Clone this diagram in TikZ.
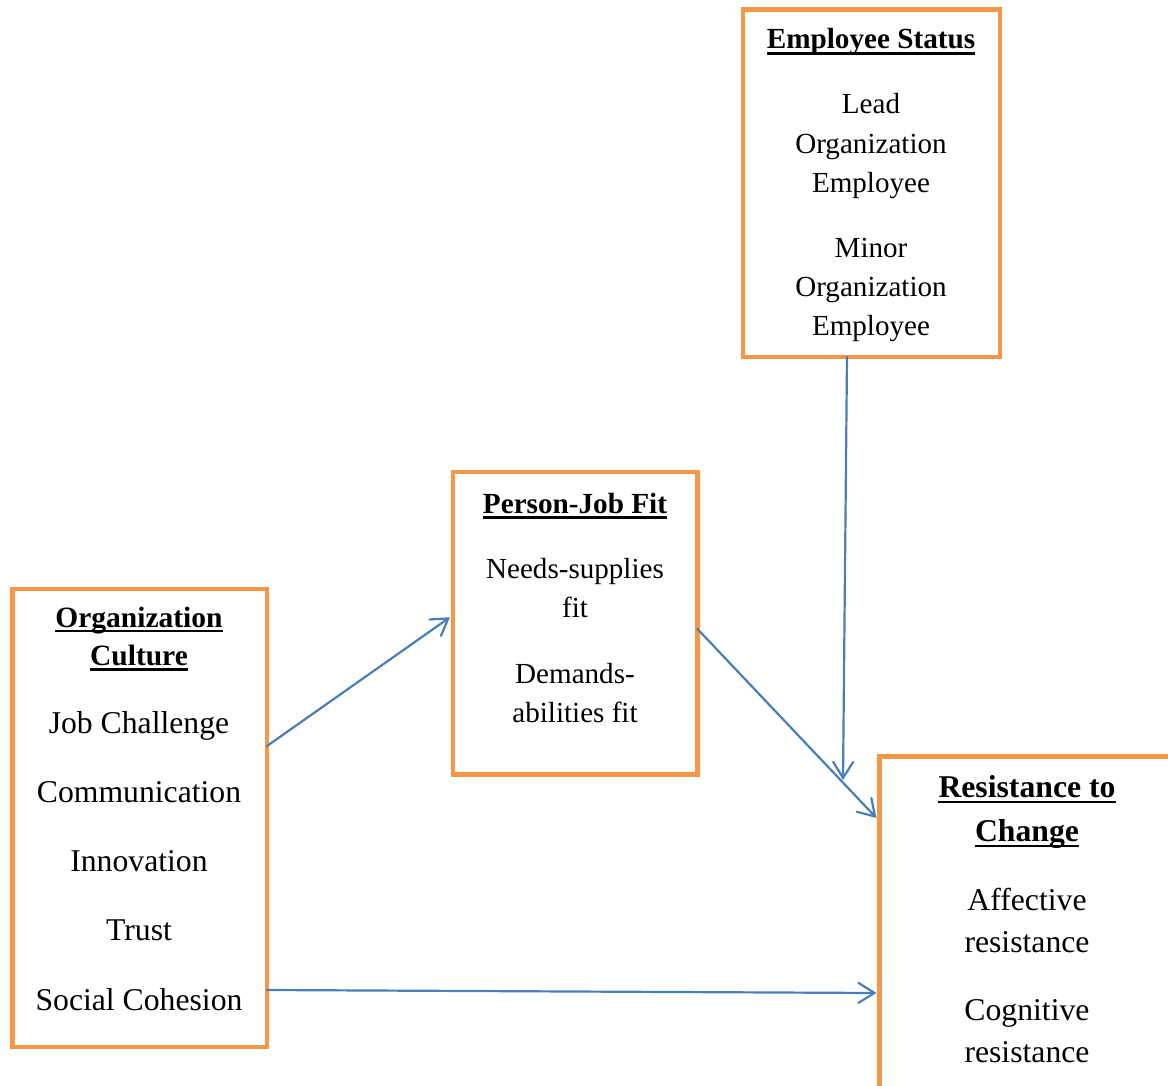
\documentclass[tikz,border=0pt]{standalone}
\usepackage{fontspec}
\setmainfont{Liberation Serif}
\usetikzlibrary{arrows.meta}
\definecolor{boxorange}{HTML}{F79646}
\definecolor{linkblue}{HTML}{4A7EBB}
\begin{document}
\begin{tikzpicture}[x=1pt,y=-1pt,
  boxA/.style={draw=boxorange, line width=4.5pt, inner sep=0pt, outer sep=0pt, fill=white, rectangle},
  txtS/.style={inner sep=0pt, anchor=base, font=\fontsize{29.1pt}{35pt}\selectfont},
  txtB/.style={inner sep=0pt, anchor=base, font=\fontsize{31.7pt}{38pt}\selectfont},
  headS/.style={txtS, font=\fontsize{29.2pt}{35pt}\selectfont\bfseries},
  headM/.style={txtS, font=\fontsize{29.5pt}{35pt}\selectfont\bfseries},
  headB/.style={txtB, font=\fontsize{31.7pt}{38pt}\selectfont\bfseries},
  uline/.style={line width=2.6pt, black},
  link/.style={draw=linkblue, line width=2.2pt, line cap=round, -{Straight Barb[length=16pt,width=20pt,line cap=round]}}
]
\useasboundingbox (0,0) rectangle (1168,1086);
\clip (0,0) rectangle (1168,1086);

% boxes
\node[boxA, minimum width=257pt, minimum height=347.5pt] (es) at (871.5,183.25) {};
\node[boxA, minimum width=244.5pt, minimum height=302.5pt] (pjf) at (575.25,623.25) {};
\node[boxA, minimum width=254.5pt, minimum height=458pt] (oc) at (139.75,818) {};
\node[boxA, minimum width=295.5pt, minimum height=363.5pt] (rtc) at (1027.25,938.25) {};

% Employee Status
\node[headS] (esh) at (871,49) {Employee Status};
\draw[uline] ([yshift=-4.5pt]esh.base west) -- ([yshift=-4.5pt]esh.base east);
\node[txtS] (es1) at (871,114) {Lead};
\node[txtS] (es2) at (871,153.5) {Organization};
\node[txtS] (es3) at (871,192.5) {Employee};
\node[txtS] (es4) at (871,258) {Minor};
\node[txtS] (es5) at (871,297) {Organization};
\node[txtS] (es6) at (871,335) {Employee};

% Person-Job Fit
\node[headS] (pjfh) at (575,513) {Person-Job Fit};
\draw[uline] ([yshift=-4.5pt]pjfh.base west) -- ([yshift=-4.5pt]pjfh.base east);
\node[txtS] (pj1) at (575,578) {Needs-supplies};
\node[txtS] (pj2) at (575,617) {fit};
\node[txtS] (pj3) at (575,683) {Demands-};
\node[txtS] (pj4) at (575,722) {abilities fit};

% Organization Culture
\node[headM] (och1) at (139,627) {Organization};
\draw[uline] ([yshift=-4pt]och1.base west) -- ([yshift=-4pt]och1.base east);
\node[headM] (och2) at (139,665.5) {Culture};
\draw[uline] ([yshift=-4pt]och2.base west) -- ([yshift=-4pt]och2.base east);
\node[txtB] (oc1) at (139,733) {Job Challenge};
\node[txtB] (oc2) at (139,802) {Communication};
\node[txtB] (oc3) at (139,871) {Innovation};
\node[txtB] (oc4) at (139,940) {Trust};
\node[txtB] (oc5) at (139,1010) {Social Cohesion};

% Resistance to Change
\node[headB] (rth1) at (1027,797) {Resistance to};
\draw[uline] ([yshift=-5pt]rth1.base west) -- ([yshift=-5pt]rth1.base east);
\node[headB] (rth2) at (1027,841) {Change};
\draw[uline] ([yshift=-5pt]rth2.base west) -- ([yshift=-5pt]rth2.base east);
\node[txtB] (rt1) at (1027,910) {Affective};
\node[txtB] (rt2) at (1027,952) {resistance};
\node[txtB] (rt3) at (1027,1020) {Cognitive};
\node[txtB] (rt4) at (1027,1062) {resistance};

% connectors
\coordinate (esend) at (843,780);
\draw[link] ([yshift=72pt]oc.east) -- ([xshift=-3pt,yshift=6pt]pjf.west);
\draw[link] ([yshift=-172pt]oc.east) -- ([xshift=-3pt,yshift=-54.75pt]rtc.west);
\draw[link] ([yshift=-5.75pt]pjf.east) -- ([xshift=-3pt,yshift=120.25pt]rtc.west);
\draw[link] ([xshift=-24.5pt]es.south) -- (esend);
\end{tikzpicture}
\end{document}
